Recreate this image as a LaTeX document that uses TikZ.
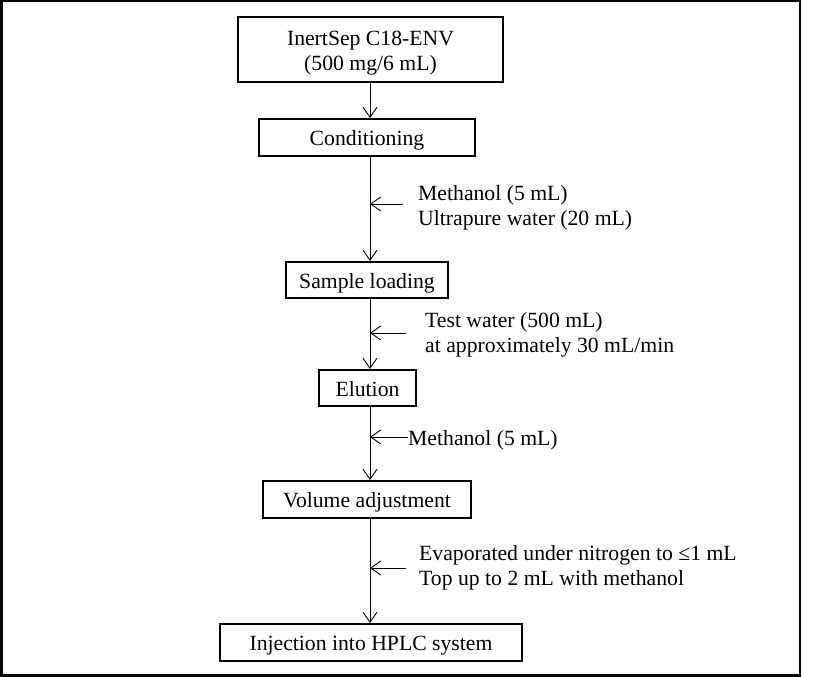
\documentclass[tikz,border=0pt]{standalone}
\usepackage{fontspec}
\setmainfont{Liberation Serif}
\usetikzlibrary{arrows.meta}
\begin{document}
\begin{tikzpicture}[x=1pt,y=-1pt,
  font=\fontsize{21.7}{25}\selectfont,
  stepbox/.style={draw, line width=2pt, inner sep=0pt, align=center, text height=16pt, text depth=0pt},
  bigbox/.style={draw, line width=2pt, inner sep=0pt},
  flow/.style={line width=0.9pt, -{Straight Barb[length=10pt,width=14pt,line width=0.9pt]}},
  note/.style={anchor=west, align=left, inner sep=0pt},
  onenote/.style={anchor=west, inner sep=0pt, text height=16pt, text depth=0pt}]
\useasboundingbox (0,0) rectangle (828,677);
\draw[line width=2.5pt] (1.25,1.25) rectangle (800,675.5);

\node[bigbox, minimum width=265pt, minimum height=65pt] (b1) at (370.5,49.5)
  {\raisebox{-4pt}[\height][\depth]{\begin{tabular}{@{}c@{}}InertSep C18-ENV\\(500 mg/6 mL)\end{tabular}}};
\node[stepbox, minimum width=216pt, minimum height=37pt] (b2) at (367,137.5) {Conditioning};
\node[stepbox, minimum width=162pt, minimum height=36pt] (b3) at (367,280) {Sample loading};
\node[stepbox, minimum width=97pt, minimum height=36pt] (b4) at (367.5,388) {Elution};
\node[stepbox, minimum width=208pt, minimum height=37pt] (b5) at (367,499.5) {Volume adjustment};
\node[stepbox, minimum width=302pt, minimum height=37pt] (b6) at (371,642.5) {Injection into HPLC system};

\coordinate (spine) at (370,0);
\draw[flow] (b1.south -| spine) -- (b2.north -| spine);
\draw[flow] (b2.south -| spine) -- (b3.north -| spine);
\draw[flow] (b3.south -| spine) -- (b4.north -| spine);
\draw[flow] (b4.south -| spine) -- (b5.north -| spine);
\draw[flow] (b5.south -| spine) -- (b6.north -| spine);

\node[note] (t1) at (418,207.5) {Methanol (5 mL)\\Ultrapure water (20 mL)};
\node[note] (t2) at (425,334.5) {Test water (500 mL)\\at approximately 30 mL/min};
\node[onenote] (t3) at (408,437) {Methanol (5 mL)};
\node[note] (t4) at (419,567.5) {Evaporated under nitrogen to ≤1 mL\\Top up to 2 mL with methanol};

\coordinate (s1) at (403,204);
\coordinate (s2) at (406,333);
\coordinate (s4) at (406,568);
\draw[flow] (s1) -- (s1 -| spine);
\draw[flow] (s2) -- (s2 -| spine);
\draw[flow] (t3.west) -- (t3.west -| spine);
\draw[flow] (s4) -- (s4 -| spine);
\end{tikzpicture}
\end{document}
